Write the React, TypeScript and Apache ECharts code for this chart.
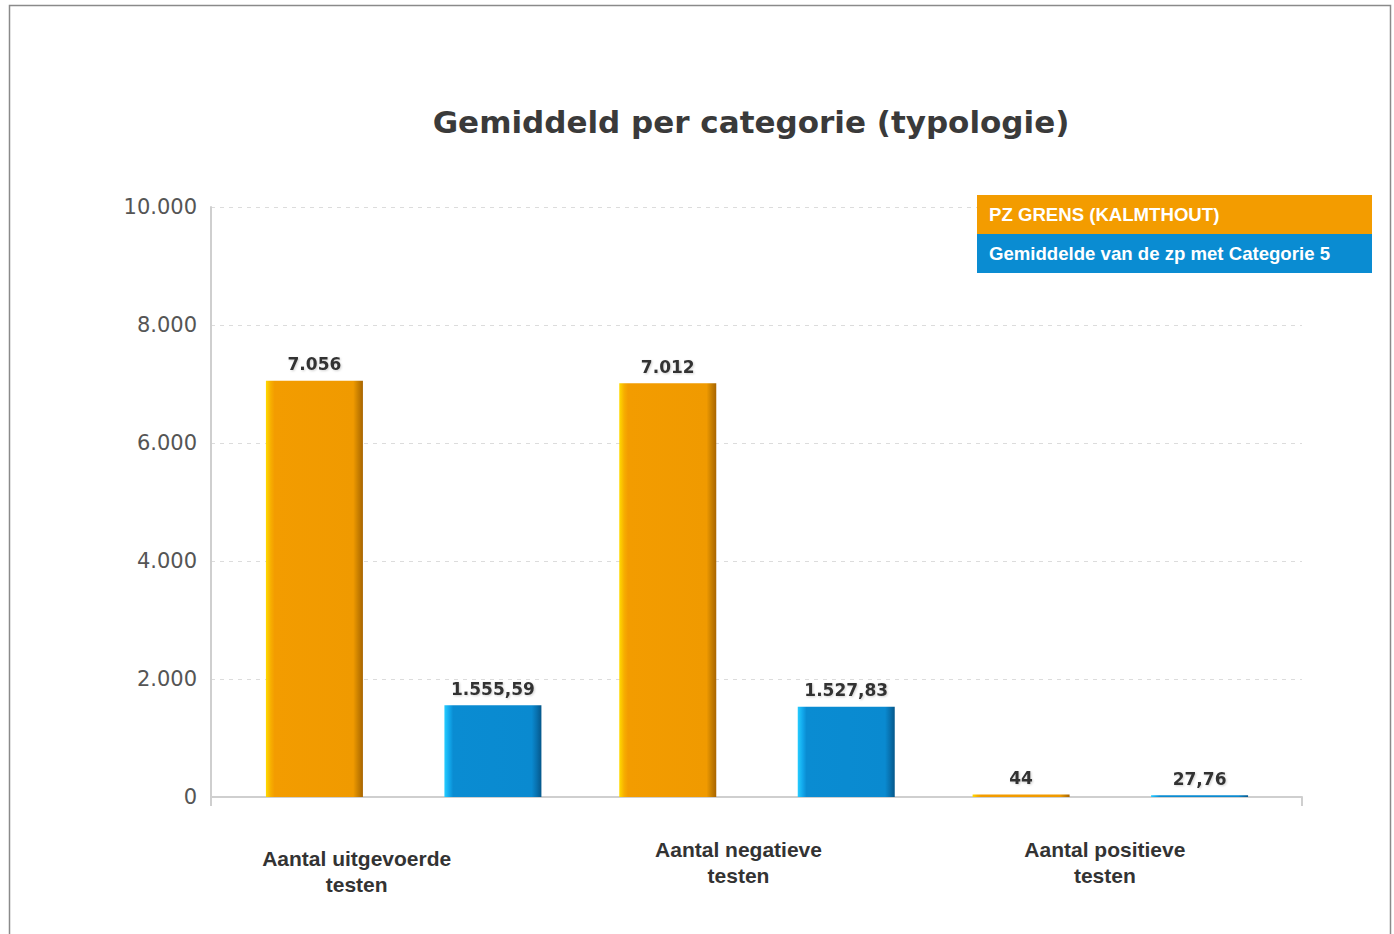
import React, { useEffect, useRef } from "react";
import * as echarts from "echarts";

const titleText = "Gemiddeld per categorie (typologie)";
const categories = ["Aantal uitgevoerde testen", "Aantal negatieve testen", "Aantal positieve testen"];
const seriesNames = ["PZ GRENS (KALMTHOUT)", "Gemiddelde van de zp met Categorie 5"];
const valuesPZ = [7056, 7012, 44];
const valuesAvg = [1555.59, 1527.83, 27.76];
const yMin = 0;
const yMax = 10000;
const yInterval = 2000;

function fmtNL(v: number): string {
  const neg = v < 0;
  const abs = Math.abs(v);
  const rounded = Math.round(abs * 100) / 100;
  const intPart = Math.floor(rounded);
  const dec = Math.round((rounded - intPart) * 100);
  const intStr = String(intPart).replace(/\B(?=(\d{3})+(?!\d))/g, ".");
  let s = intStr;
  if (dec > 0) s += "," + String(dec).padStart(2, "0");
  return (neg ? "-" : "") + s;
}

function splitLast(s: string): string[] {
  const i = s.lastIndexOf(" ");
  if (i < 0) return [s];
  return [s.slice(0, i), s.slice(i + 1)];
}

const orangeGrad = new echarts.graphic.LinearGradient(0, 0, 1, 0, [
  { offset: 0, color: "#FFDA00" },
  { offset: 0.05, color: "#F7AE00" },
  { offset: 0.09, color: "#F39C00" },
  { offset: 0.9, color: "#F09A00" },
  { offset: 0.95, color: "#C98000" },
  { offset: 1, color: "#A86400" },
]);
const blueGrad = new echarts.graphic.LinearGradient(0, 0, 1, 0, [
  { offset: 0, color: "#25CCFF" },
  { offset: 0.05, color: "#12A8EC" },
  { offset: 0.09, color: "#0A8CD2" },
  { offset: 0.9, color: "#0A8AD0" },
  { offset: 0.95, color: "#0872B0" },
  { offset: 1, color: "#05578A" },
]);

const labelShift = [
  { right: 94, top: 9 },
  { right: 37, top: 0 },
  { right: 11, top: 0 },
];

export default function App() {
  const ref = useRef<HTMLDivElement>(null);
  useEffect(() => {
    if (!ref.current) return;
    const chart = echarts.init(ref.current, null, { renderer: "svg" });
    const rich: any = {};
    labelShift.forEach((p, i) => {
      const base = {
        fontFamily: "Liberation Sans",
        fontWeight: "bold",
        fontSize: 21,
        color: "#333",
        lineHeight: 26,
      };
      rich["a" + i] = { ...base, padding: [0, p.right, 0, 0] };
      rich["b" + i] = { ...base, padding: [0, p.right, 0, 0] };
      rich["s" + i] = { fontSize: 1, lineHeight: p.top, color: "rgba(0,0,0,0)" };
    });
    const labelStyle = {
      show: true,
      position: "top",
      distance: 8,
      fontFamily: "DejaVu Sans",
      fontWeight: "bold",
      fontSize: 17,
      color: "#333",
      textShadowColor: "rgba(0,0,0,0.18)",
      textShadowBlur: 2,
      textShadowOffsetX: 1,
      textShadowOffsetY: 1,
      formatter: (p: any) => fmtNL(p.value),
    };
    const legendText = (bg: string) => ({
      backgroundColor: bg,
      color: "#fff",
      fontFamily: "Liberation Sans",
      fontWeight: "bold",
      fontSize: 18.6,
      lineHeight: 19,
      width: 371,
      padding: [10, 12, 10, 12],
    });
    chart.setOption({
      animation: false,
      backgroundColor: "#fff",
      title: {
        text: titleText,
        left: 746,
        top: 101,
        textAlign: "center",
        textStyle: {
          fontFamily: "DejaVu Sans",
          fontWeight: "bold",
          fontSize: 31,
          color: "#3a3a3a",
        },
      },
      legend: {
        orient: "vertical",
        left: 972,
        top: 195,
        itemGap: 0,
        itemWidth: 0,
        itemHeight: 0,
        icon: "rect",
        selectedMode: false,
        padding: 0,
        data: [
          { name: seriesNames[0], textStyle: legendText("#F39C00") },
          { name: seriesNames[1], textStyle: legendText("#0A8CD2") },
        ],
      },
      graphic: [
        {
          type: "rect",
          shape: { x: 9.5, y: 5.5, width: 1381, height: 1000 },
          style: { fill: "none", stroke: "#8a8a8a", lineWidth: 1.5 },
          silent: true,
        },
      ],
      grid: [
        { left: 227, right: 107, top: 207, bottom: 137 },
        { left: 211, right: 92, top: 207, bottom: 137 },
      ],
      xAxis: [
        {
          type: "category",
          gridIndex: 0,
          data: categories,
          axisLine: { show: false },
          axisTick: { show: false },
          axisLabel: {
            margin: 39,
            interval: 0,
            formatter: (v: string, i: number) => {
              const parts = splitLast(v).map(
                (t, k) => `{${k === 0 ? "a" : "b"}${i}|${t}}`
              );
              if (labelShift[i] && labelShift[i].top > 0) {
                parts.unshift(`{s${i}|\u00a0}`);
              }
              return parts.join("\n");
            },
            rich,
          },
        },
        {
          type: "value",
          gridIndex: 1,
          min: 0,
          max: 1,
          interval: 1,
          axisLine: { show: true, lineStyle: { color: "#cfcfcf", width: 2 } },
          axisTick: { show: true, length: 9, lineStyle: { color: "#cfcfcf", width: 2 } },
          axisLabel: { show: false },
          splitLine: { show: false },
        },
      ],
      yAxis: [
        {
          type: "value",
          gridIndex: 0,
          min: yMin,
          max: yMax,
          interval: yInterval,
          axisLine: { show: false },
          axisTick: { show: false },
          axisLabel: { show: false },
          splitLine: { show: false },
        },
        {
          type: "value",
          gridIndex: 1,
          min: yMin,
          max: yMax,
          interval: yInterval,
          axisLine: { show: true, lineStyle: { color: "#cfcfcf", width: 2 } },
          axisTick: { show: false },
          axisLabel: {
            margin: 14,
            fontFamily: "DejaVu Sans",
            fontSize: 21,
            color: "#555",
            formatter: (v: number) => fmtNL(v),
          },
          splitLine: {
            show: true,
            lineStyle: { color: "#dcdcdc", type: [4, 5], width: 1 },
          },
        },
      ],
      series: [
        {
          name: seriesNames[0],
          type: "bar",
          xAxisIndex: 0,
          yAxisIndex: 0,
          data: valuesPZ,
          barWidth: 97,
          barGap: "84%",
          itemStyle: { color: orangeGrad },
          label: labelStyle,
        },
        {
          name: seriesNames[1],
          type: "bar",
          xAxisIndex: 0,
          yAxisIndex: 0,
          data: valuesAvg,
          barWidth: 97,
          barGap: "84%",
          itemStyle: { color: blueGrad },
          label: labelStyle,
        },
      ],
    });
    return () => chart.dispose();
  }, []);
  return (
    <div
      ref={ref}
      style={{ position: "absolute", left: 0, top: 0, width: 1394, height: 934 }}
    />
  );
}
